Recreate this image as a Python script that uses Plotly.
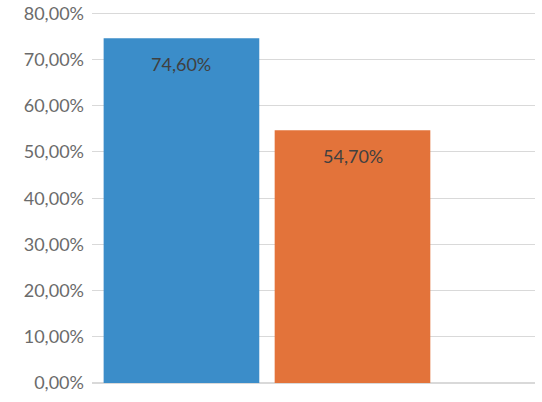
import plotly.graph_objects as go

categories = ["A", "B"]
values = [0.746, 0.547]
colors = ["#3b8dc9", "#e3733a"]
tick_vals = [0, 0.1, 0.2, 0.3, 0.4, 0.5, 0.6, 0.7, 0.8]

fig = go.Figure()

fig.add_trace(go.Bar(
    x=categories,
    y=values,
    marker=dict(color=colors, line=dict(width=0)),
    width=0.91,
    showlegend=False,
    hoverinfo="skip",
))

# value labels sit a bit below the top of each bar
for cat, val in zip(categories, values):
    fig.add_annotation(
        x=cat, y=val, yref="y", xref="x",
        text=f"{val * 100:.2f}%".replace(".", ","),
        showarrow=False,
        yanchor="middle",
        yshift=-26,
        font=dict(family="Lato", size=18, color="#404040"),
    )

fig.update_layout(
    width=542,
    height=402,
    margin=dict(l=92, r=7, t=12, b=19),
    plot_bgcolor="white",
    paper_bgcolor="white",
    separators=",.",
    font=dict(family="Lato", size=18, color="#6b6b6b"),
)

fig.update_xaxes(
    range=[-0.523, 2.067],
    showticklabels=False,
    showgrid=False,
    zeroline=False,
    showline=False,
    automargin=False,
)

# a little headroom over 80% so plotly keeps the top gridline
fig.update_yaxes(
    range=[0, 0.803],
    tickvals=tick_vals,
    tickformat=".2%",
    showgrid=True,
    gridcolor="#d9d9d9",
    gridwidth=1,
    zeroline=True,
    zerolinecolor="#d9d9d9",
    showline=False,
    ticklabelstandoff=7,
    ticklabeloverflow="allow",
    automargin=False,
)

# drop the default 8px body margin so the figure fills the window
fig.write_html(
    "out.html",
    config={"displayModeBar": False},
    post_script="document.body.style.margin = '0';",
)
